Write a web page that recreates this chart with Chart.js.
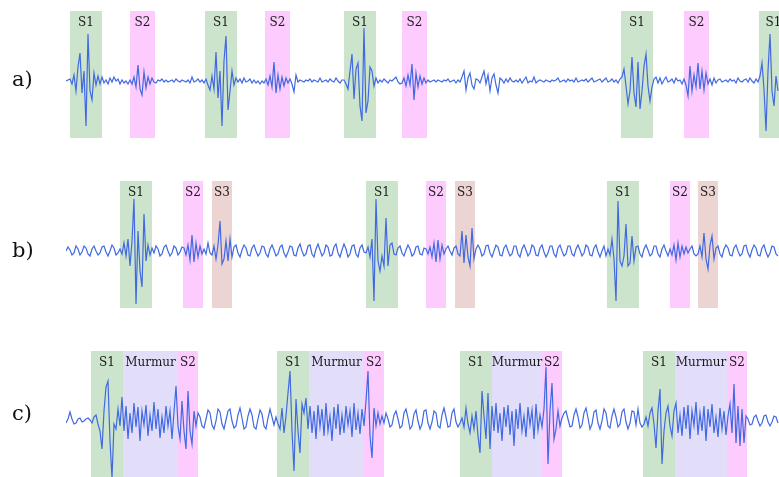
<!DOCTYPE html>
<html>
<head>
<meta charset="utf-8">
<script src="https://cdn.jsdelivr.net/npm/chart.js@4.4.1/dist/chart.umd.min.js"></script>
<style>
  html, body { margin: 0; padding: 0; background: #fff; width: 779px; height: 477px; overflow: hidden; }
  .row { position: absolute; left: 0; width: 779px; height: 159px; }
  .row canvas { position: absolute; left: 0; top: 0; }
  .tag { position: absolute; left: 12px; font-family: "DejaVu Serif", serif; font-size: 21px; line-height: 21px; color: #111; }
</style>
</head>
<body>
<div class="row" id="rowA" style="top:0px"><canvas id="chartA" width="779" height="159"></canvas><span class="tag" style="top:69px">a)</span></div>
<div class="row" id="rowB" style="top:170px"><canvas id="chartB" width="779" height="159"></canvas><span class="tag" style="top:70px">b)</span></div>
<div class="row" id="rowC" style="top:340px"><canvas id="chartC" width="779" height="159"></canvas><span class="tag" style="top:63px">c)</span></div>
<script>
// Heart-sound recordings, one sample every 20 ms (amplitude in arbitrary units).
const SAMPLE_STEP = 0.02;

// a) normal heart sounds: S1 and S2
const ampA = [
  0, 1, 2, -3, 6, -10, 14, 28, -12, 10,
  -45, 47, -10, -19, 8, -4, 5, -3, 4, -2,
  1, -3, 3, -1, 4, 0, 2, -3, 1, -2,
  0, -3, 1, -3, 4, -6, 16, -8, -14, 9,
  -7, 4, -3, 3, -1, -2, 1, 0, 2, -1,
  1, -1, 0, 1, -1, 2, 0, -1, 1, 0,
  -1, 1, -2, 4, -1, 0, 2, -1, 1, -2,
  2, -4, -9, 5, -8, 29, -17, 10, -45, 20,
  45, -29, -10, 10, -4, 3, -1, 2, -2, 3,
  -1, 0, 2, -2, 1, -2, 0, -3, 0, -2,
  2, -4, 5, -6, 19, -12, 6, -8, 4, -5,
  3, -2, 2, -3, -11, 6, -1, 1, 0, -1,
  1, 0, 2, -1, 1, 0, -1, 3, -1, 0,
  1, -1, 2, 0, -1, 3, 0, -2, 1, 1,
  -3, -8, 10, 27, -18, 12, 18, -25, -40, 53,
  -32, -20, 14, 10, -5, 3, -2, 1, -1, 2,
  0, -2, 1, 0, 2, 4, -1, -3, -2, 3,
  -5, 6, -4, 17, -19, 8, -6, 5, -3, 3,
  -2, 1, -1, 0, 1, -1, 1, 0, -1, 1,
  0, 2, -1, 0, 1, -2, 1, -1, 4, 10,
  -9, 3, 8, -4, -8, 2, 1, -2, 4, 10,
  -3, 6, -10, 3, 7, -4, -12, 3, 1, -2,
  2, -1, 3, 0, -1, 1, -1, 2, -2, 1,
  4, -2, 0, -1, 4, -2, 0, 1, 0, -1,
  1, 0, -1, 1, 0, 1, 3, -1, 0, 1,
  -1, 2, 0, 1, -1, 3, -1, 0, 1, 0,
  2, -1, 1, 3, -1, 0, 1, 2, -1, 1,
  3, -1, 0, 2, -1, 1, -2, 2, 4, 12,
  -5, -23, -10, 24, -12, -26, 19, -28, -10, 15,
  27, -5, -20, -6, 2, 4, -2, 3, -3, 1,
  4, -1, 0, 2, -2, 3, 0, 1, -3, 2,
  -4, -15, 15, -10, 6, -6, 18, -8, 10, -9,
  8, -3, 2, -4, 3, -2, 1, 2, -1, 0,
  1, -1, 2, 0, 1, -2, 3, 0, -1, 1,
  2, -1, 3, 0, -2, 2, -1, 5, 18, -8,
  -50, 10, 47, -10, -25, 5, -10
];

// b) S1, S2 and a third heart sound S3
const ampB = [
  0, 4, 1, -4, -2, 5, 2, -4, -1, 5,
  3, -3, -5, 2, 5, 0, -4, -2, 4, 5,
  -1, -5, 0, 6, 3, -4, -2, 2, -3, 8,
  -5, 12, -15, 10, 52, -53, 20, -20, -36, 37,
  -10, 6, -4, 3, -2, 5, 2, -5, -3, 4,
  6, 0, -5, -2, 5, 3, -4, -1, 4, 3,
  -4, 6, -9, 16, -11, 8, -6, 5, -3, 2,
  -3, 8, -2, -4, 5, -8, 6, 30, -13, -8,
  10, -10, 12, -6, 4, 6, -2, -6, 1, 6,
  3, -4, -5, 3, 6, 0, -5, -2, 5, 4,
  -3, -6, 2, 6, 1, -5, -3, 4, 6, -2,
  -6, -1, 5, 4, -4, -5, 3, 7, 0, -5,
  -3, 5, 6, -3, -6, 2, 7, 1, -5, -2,
  6, 4, -5, -4, 4, 7, -2, -6, 1, 7,
  2, -6, -3, 5, 6, -3, -6, 3, 6, -1,
  -2, 4, -6, 12, -50, 52, -10, -20, -5, -15,
  33, -15, 6, 8, -3, -4, 3, 5, -2, -5,
  1, 6, 2, -5, -3, 4, 5, -3, -4, 3,
  2, -3, 4, -6, 8, -11, 11, -8, 6, -3,
  2, 5, 0, -4, 3, 5, -3, -5, 20, -12,
  16, -6, -15, 23, -8, 2, 6, 2, -5, -3,
  5, 6, -2, -6, 0, 6, 4, -4, -5, 3,
  6, 0, -5, -3, 5, 5, -3, -6, 2, 6,
  1, -5, -2, 6, 4, -4, -5, 3, 6, -1,
  -6, -2, 5, 5, -3, -6, 3, 6, 0, -5,
  -3, 5, 5, -3, -5, 2, 6, 1, -5, -2,
  6, 4, -4, -5, 3, 6, -1, -6, 0, 5,
  -5, 2, -4, 12, -8, -50, 50, -10, -15, -5,
  27, -15, -12, 15, -10, 4, 5, -3, -6, 2,
  6, 1, -5, -3, 5, 5, -3, -6, 2, 6,
  0, -5, 2, -4, 6, -9, 8, -6, 5, -3,
  4, -2, 2, 5, -3, -5, -3, 5, -6, 18,
  -8, -18, 6, 15, -8, 3, 5, -3, -6, 2,
  6, 3, -4, -5, 3, 6, 0, -5, -3, 5,
  6, -2, -6, 1, 6, 3, -4, -5, 3, 6,
  -1, -6, -2, 5, 4, -3, -5
];

// c) systolic murmur between S1 and S2
const ampC = [
  -2, 2, 9, 2, -3, -2, 2, 3, -1, 0,
  2, 3, 1, -2, 4, 6, -3, -10, -28, 10,
  34, 40, -20, -57, -3, -8, 12, -5, 24, -10,
  15, -18, 8, -12, 18, -6, 14, -20, 10, -4,
  16, -15, 6, -10, 19, -8, 12, -17, 4, -12,
  15, -5, 10, -18, 9, 35, -5, -18, 20, -10,
  -28, 30, -10, -23, 10, -5, 8, 4, -5, -7,
  2, 11, 8, -4, -8, 0, 12, 9, -3, -8,
  1, 10, 12, 0, -7, -5, 6, 13, 3, -8,
  -6, 5, 12, 6, -6, -8, 2, 11, 7, -5,
  -8, 3, 12, 4, -4, 4, -3, -8, 13, -12,
  5, 28, 50, -10, -50, 22, -10, -32, 17, 8,
  23, -8, 15, -12, 10, -18, 16, -6, 12, -15,
  18, -10, 5, -20, 14, -8, 17, -14, 6, -12,
  15, -4, 10, -16, 18, -9, 8, -13, 12, -5,
  20, 50, -15, -37, 13, -5, 8, -3, 5, -2,
  8, 2, -6, -4, 6, 10, 2, -7, -5, 8,
  12, 3, -8, -5, 7, 11, 0, -8, -3, 10,
  11, -2, -8, -1, 10, 8, -5, -7, 6, 13,
  4, -6, -5, 8, 12, -1, -6, -2, 3, -6,
  13, -3, -12, 5, -8, 10, -15, -32, 30, 5,
  -18, 28, -28, 15, -10, 18, -12, 8, -20, 14,
  -6, 16, -14, 10, -25, 12, -8, 18, -10, 5,
  -16, 14, -4, 11, -18, 17, -9, 6, -6, 12,
  54, -43, 10, 38, -18, -8, 10, -5, 3, 8,
  10, 2, -6, -5, 6, 12, 4, -7, -4, 8,
  13, 3, -8, -3, 9, 11, -2, -8, 0, 12,
  8, -5, -7, 5, 12, 4, -6, -3, 9, 12,
  -1, -8, -2, 10, 9, -4, 12, -2, -6, -3,
  4, -5, 8, 13, -3, -27, 10, 32, -43, -10,
  8, 15, -5, -15, 10, 18, -12, 6, -15, 14,
  -8, 16, -18, 10, -5, 19, -14, 8, -10, 15,
  -20, 12, -6, 17, -12, 4, -16, 13, -8, 10,
  -14, 5, 17, -12, 37, -22, 15, -25, 12, -22,
  5, 2, -4, -3, 4, 6, 0, -5, -2, 5,
  6, -1, -5, -1, 5, 4, -2
];

// Annotated sound segments: [start s, end s, kind]
const soundsA = [
  [0.04, 0.36, 'S1'], [0.64, 0.89, 'S2'],
  [1.39, 1.71, 'S1'], [1.99, 2.24, 'S2'],
  [2.78, 3.10, 'S1'], [3.36, 3.61, 'S2'],
  [5.55, 5.87, 'S1'], [6.18, 6.43, 'S2'],
  [6.93, 7.22, 'S1']
];
const soundsB = [
  [0.54, 0.86, 'S1'], [1.17, 1.37, 'S2'], [1.46, 1.66, 'S3'],
  [3.00, 3.32, 'S1'], [3.60, 3.80, 'S2'], [3.89, 4.09, 'S3'],
  [5.41, 5.73, 'S1'], [6.04, 6.24, 'S2'], [6.32, 6.52, 'S3']
];
const soundsC = [
  [0.25, 0.57, 'S1'], [0.57, 1.12, 'Murmur'], [1.12, 1.32, 'S2'],
  [2.11, 2.43, 'S1'], [2.43, 2.98, 'Murmur'], [2.98, 3.18, 'S2'],
  [3.94, 4.26, 'S1'], [4.26, 4.76, 'Murmur'], [4.76, 4.96, 'S2'],
  [5.77, 6.09, 'S1'], [6.09, 6.61, 'Murmur'], [6.61, 6.81, 'S2']
];

const SEGMENT_FILL = {
  S1: '#cde4cc',
  S2: '#fdcbfd',
  S3: '#ecd4d3',
  Murmur: '#e2ddf9'
};

// Shaded bands with their names, drawn beneath the trace
const segmentBands = {
  id: 'segmentBands',
  beforeDatasetsDraw(chart, args, opts) {
    const { ctx, chartArea: area, scales: { x } } = chart;
    const spans = opts.segments || [];
    ctx.save();
    ctx.beginPath();
    ctx.rect(area.left, area.top, area.right - area.left, area.bottom - area.top);
    ctx.clip();
    spans.forEach(([t0, t1, kind]) => {
      const x0 = x.getPixelForValue(t0);
      const x1 = x.getPixelForValue(t1);
      ctx.fillStyle = SEGMENT_FILL[kind];
      ctx.fillRect(x0, area.top, x1 - x0, area.bottom - area.top);
    });
    ctx.restore();
    ctx.save();
    ctx.fillStyle = '#1b1b1b';
    ctx.font = '12px "DejaVu Serif", serif';
    ctx.textAlign = 'center';
    ctx.textBaseline = 'alphabetic';
    spans.forEach(([t0, t1, kind]) => {
      const cx = (x.getPixelForValue(t0) + x.getPixelForValue(t1)) / 2;
      ctx.fillText(kind, cx, area.top + 15);
    });
    ctx.restore();
  }
};

function drawRecording(canvasId, amps, sounds) {
  const points = amps.map((v, i) => ({ x: i * SAMPLE_STEP, y: v }));
  return new Chart(document.getElementById(canvasId), {
    type: 'line',
    data: {
      datasets: [{
        data: points,
        borderColor: '#4169e1',
        borderWidth: 1.2,
        pointRadius: 0,
        tension: 0,
        fill: false
      }]
    },
    options: {
      responsive: false,
      animation: false,
      devicePixelRatio: 1,
      events: [],
      layout: { padding: { left: 66, right: 0, top: 11, bottom: 21 } },
      scales: {
        x: { type: 'linear', min: 0, max: 7.13, display: false },
        y: { min: -57, max: 70, display: false }
      },
      plugins: {
        legend: { display: false },
        tooltip: { enabled: false },
        segmentBands: { segments: sounds }
      }
    },
    plugins: [segmentBands]
  });
}

drawRecording('chartA', ampA, soundsA);
drawRecording('chartB', ampB, soundsB);
drawRecording('chartC', ampC, soundsC);
</script>
</body>
</html>
